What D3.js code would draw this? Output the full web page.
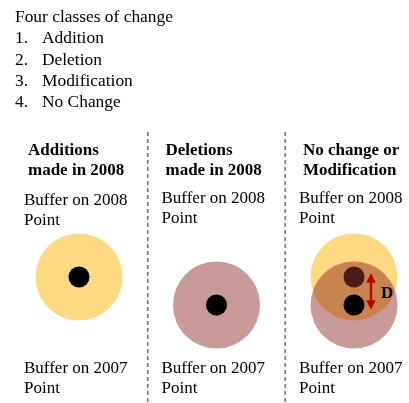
<!DOCTYPE html>
<html lang="en">
<head>
<meta charset="UTF-8">
<title>Four classes of change</title>
<script src="https://d3js.org/d3.v7.min.js"></script>
<style>
  body { margin: 0; background: #fff; }
  svg { display: block; font-family: "Liberation Serif", "Times New Roman", serif; }
</style>
</head>
<body>
<svg id="chart" width="409" height="403"></svg>
<script>
// --- data ---
const listTitle = "Four classes of change";
const changeClasses = ["Addition", "Deletion", "Modification", "No Change"];
const panelIds = ["add", "del", "same"];
const panelHeadings = [["Additions", "made in 2008"], ["Deletions", "made in 2008"], ["No change or", "Modification"]];
const panelBuffers = [["2008"], ["2007"], ["2008", "2007"]];
const years = ["2008", "2007"];
const topLabel = ["Buffer on 2008", "Point"];
const bottomLabel = ["Buffer on 2007", "Point"];
const distanceLabel = "D";

const bufferFill = { "2008": "#fed983", "2007": "#c99a9a" };
const pointFill = { "2008": "#000", "2007": "#000" };

const svg = d3.select("#chart");

// list at top
const listY = d3.scaleLinear().domain([0, 4]).range([22, 107]);
svg.append("text").attr("x", 15).attr("y", listY(0)).attr("font-size", 17.4).text(listTitle);
changeClasses.forEach((c, i) => {
  svg.append("text").attr("x", 15).attr("y", listY(i + 1)).attr("font-size", 17.4).text((i + 1) + ".");
  svg.append("text").attr("x", 42).attr("y", listY(i + 1)).attr("font-size", 17.4).text(c);
});

// panels
const x = d3.scalePoint().domain(panelIds).range([79, 354]);
const y = d3.scalePoint().domain(years).range([277, 305]);
const R = 43.5, r = 10.5;

// dashed dividers between panels
for (let i = 1; i < panelIds.length; i++) {
  const xm = (x(panelIds[i - 1]) + x(panelIds[i])) / 2;
  svg.append("line")
    .attr("x1", xm).attr("x2", xm).attr("y1", 132).attr("y2", 403)
    .attr("stroke", "#777").attr("stroke-width", 1.6)
    .attr("stroke-dasharray", "4,3");
}

svg.append("defs").append("marker")
  .attr("id", "head").attr("viewBox", "0 0 10 10").attr("refX", 5).attr("refY", 5)
  .attr("markerWidth", 4).attr("markerHeight", 4).attr("orient", "auto-start-reverse")
  .append("path").attr("d", "M0,0L10,5L0,10z").attr("fill", "#c00000");

panelIds.forEach((id, i) => {
  const cx = x(id);
  const g = svg.append("g");

  g.selectAll("text.head").data(panelHeadings[i]).join("text")
    .attr("x", cx - 51).attr("y", (d, j) => 155 + j * 20)
    .attr("font-size", 17).attr("font-weight", "bold").text(d => d);

  const topY = i === 0 ? 205 : 203;
  g.selectAll("text.top").data(topLabel).join("text")
    .attr("x", cx - 55).attr("y", (d, j) => topY + j * 20)
    .attr("font-size", 17).text(d => d);

  g.selectAll("text.bot").data(bottomLabel).join("text")
    .attr("x", cx - 55).attr("y", (d, j) => 373 + j * 19.5)
    .attr("font-size", 17).text(d => d);

  const bufs = panelBuffers[i];
  g.selectAll("circle.buf").data(bufs).join("circle")
    .attr("cx", cx).attr("cy", d => y(d)).attr("r", R)
    .attr("fill", d => bufferFill[d])
    .style("mix-blend-mode", "multiply");

  g.selectAll("circle.pt").data(bufs).join("circle")
    .attr("cx", cx).attr("cy", d => y(d)).attr("r", r)
    .attr("fill", d => bufs.length > 1 && d === "2008" ? "#4d1a1a" : pointFill[d]);

  if (bufs.length > 1) {
    const ax = cx + 17;
    g.append("line")
      .attr("x1", ax).attr("x2", ax).attr("y1", y("2008") + 1).attr("y2", y("2007"))
      .attr("stroke", "#c00000").attr("stroke-width", 2.4)
      .attr("marker-start", "url(#head)").attr("marker-end", "url(#head)");
    g.append("text").attr("x", ax + 10).attr("y", (y("2008") + y("2007")) / 2 + 7)
      .attr("font-size", 17).attr("font-weight", "bold").text(distanceLabel);
  }
});
</script>
</body>
</html>
